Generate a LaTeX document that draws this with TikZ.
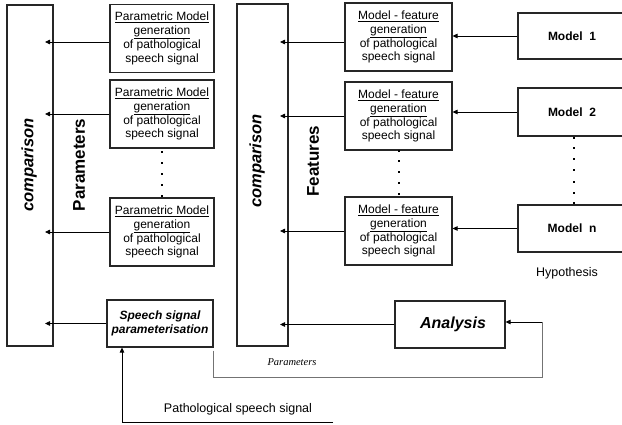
\documentclass[tikz,border=0pt]{standalone}
\usepackage{fontspec}
\setmainfont{Liberation Sans}
\newfontfamily\timesfont{Liberation Serif}
\usetikzlibrary{arrows.meta,calc}
\begin{document}
\begin{tikzpicture}[x=1pt,y=-1pt,
  frame/.style={draw=black!85,line width=1.1pt,inner sep=0pt},
  genbox/.style={frame,minimum height=68pt,align=center,font=\fontsize{12}{13.8}\selectfont},
  modelbox/.style={frame,minimum width=112pt,font=\fontsize{12}{14}\selectfont\bfseries},
  arr/.style={line width=0.8pt,-{Triangle[length=5pt,width=4.5pt]}},
  vlabel/.style={rotate=90,font=\fontsize{17}{19}\selectfont\bfseries},
  dotmark/.style={fill=black}]
\useasboundingbox (0,0) rectangle (622,425);
\clip (0,0) rectangle (622,425);
\fill[white] (0,0) rectangle (622,425);

% comparison columns
\node[frame,minimum width=46pt,minimum height=341pt] (lc) at (30,175.5) {};
\node[frame,minimum width=51pt,minimum height=342pt] (rc) at (262.5,175) {};
\node[vlabel,font=\fontsize{16.5}{19}\selectfont\bfseries\itshape] (lct) at (29,165) {comparison};
\node[vlabel,font=\fontsize{16.5}{19}\selectfont\bfseries\itshape] (rct) at (257,161) {comparison};
\node[vlabel] (par) at (79,165) {Parameters};
\node[vlabel] (feat) at (313,161) {Features};

% parametric model generators
\node[genbox,minimum width=104pt] (p1) at (162,38.5) {\underline{Parametric Model}\\\underline{generation}\\of pathological\\speech signal};
\node[genbox,minimum width=104pt] (p2) at (162,114) {\underline{Parametric Model}\\\underline{generation}\\of pathological\\speech signal};
\node[genbox,minimum width=104pt] (p3) at (162,232) {\underline{Parametric Model}\\\underline{generation}\\of pathological\\speech signal};

% model-feature generators
\node[genbox,minimum width=107pt] (f1) at (398.5,37) {\underline{Model - feature}\\\underline{generation}\\of pathological\\speech signal};
\node[genbox,minimum width=107pt] (f2) at (398.5,116) {\underline{Model - feature}\\\underline{generation}\\of pathological\\speech signal};
\node[genbox,minimum width=107pt] (f3) at (398.5,231) {\underline{Model - feature}\\\underline{generation}\\of pathological\\speech signal};

% hypothesis models
\node[modelbox,minimum height=46pt] (m1) at (574,36) {\hspace*{-4pt}Model\ \ 1};
\node[modelbox,minimum height=48pt] (m2) at (574,112) {\hspace*{-4pt}Model\ \ 2};
\node[modelbox,minimum height=47pt] (mn) at (574,228.5) {\hspace*{-4pt}Model\ \ n};
\node[font=\fontsize{12.5}{14}\selectfont] (hyp) at (567,273) {Hypothesis};

% signal parameterisation and analysis
\node[frame,minimum width=106pt,minimum height=47pt,align=center,
  font=\fontsize{12}{14}\selectfont\bfseries\itshape] (sp) at (160,323.5) {Speech signal\\parameterisation};
\node[frame,minimum width=110pt,minimum height=47pt,
  font=\fontsize{16}{18}\selectfont\bfseries\itshape] (an) at (450,324.5) {\hspace*{6pt}Analysis};

% tips inside the comparison columns
\coordinate (ltip) at (45,0);
\coordinate (rtip) at (280,0);

\draw[arr] ([yshift=-3.5pt]p1.west) -- ([yshift=-3.5pt]p1.west -| ltip);
\draw[arr] (p2.west) -- (p2.west -| ltip);
\draw[arr] (p3.west) -- (p3.west -| ltip);
\draw[arr] (sp.west) -- (sp.west -| ltip);

\draw[arr] ([yshift=-5pt]f1.west) -- ([yshift=-5pt]f1.west -| rtip);
\draw[arr] (f2.west) -- (f2.west -| rtip);
\draw[arr] (f3.west) -- (f3.west -| rtip);
\draw[arr] (an.west) -- (an.west -| rtip);

\draw[arr] (m1.west) -- (m1.west -| f1.east);
\draw[arr] (m2.west) -- (m2.west -| f2.east);
\draw[arr] (mn.west) -- (mn.west -| f3.east);

% ellipsis dots
\foreach \t in {0.08,0.305,0.53,0.755,0.98}
  \fill[dotmark] ($(p2.south)!\t!(p3.north)$) ++(-1,-1) rectangle ++(2,2);
\foreach \t in {0.0,0.22,0.46,0.70,0.94}
  \fill[dotmark] ($(f2.south)!\t!(f3.north)$) ++(-1,-1) rectangle ++(2,2);
\foreach \t in {0.02,0.17,0.33,0.50,0.67,0.83,0.98}
  \fill[dotmark] ($(m2.south)!\t!(mn.north)$) ++(-1,-1) rectangle ++(2,2);

% parameter feedback to the analysis block
\coordinate (fb) at (542,377);
\draw[black!55,line width=0.8pt] ([yshift=-3pt]sp.south east) -- (sp.south east |- fb) -- (fb) -- ([yshift=2.5pt]fb |- an.east);
\draw[arr] ([yshift=2.5pt]fb |- an.east) -- ([yshift=2.5pt]an.east);
\node[font=\timesfont\fontsize{10.5}{12}\selectfont\itshape] (plab) at (292,362) {Parameters};

% input signal
\coordinate (ps) at (333,422);
\draw[arr] (ps) -| ([xshift=-38pt]sp.south);
\node[font=\fontsize{12.5}{14}\selectfont] (pslab) at (238,409) {Pathological speech signal};
\end{tikzpicture}
\end{document}
